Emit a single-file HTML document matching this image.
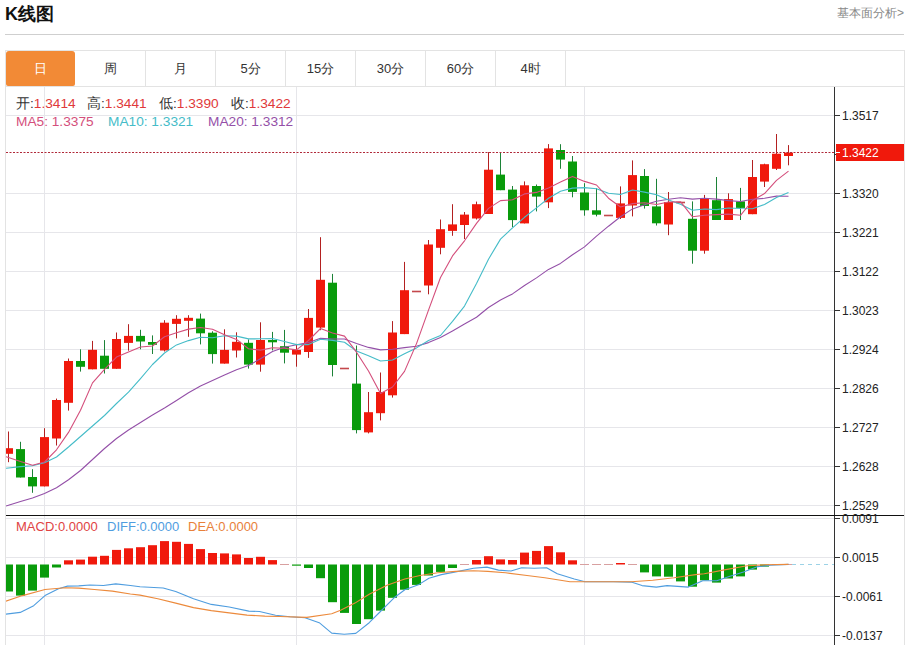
<!DOCTYPE html>
<html><head><meta charset="utf-8">
<style>
html,body{margin:0;padding:0;background:#fff;width:909px;height:645px;overflow:hidden}
body{font-family:"Liberation Sans",sans-serif;position:relative}
.title{position:absolute;left:5px;top:2px;font-size:18px;font-weight:bold;color:#111;line-height:24px}
.more{position:absolute;right:5px;top:6px;font-size:12px;color:#888;line-height:14px}
.hr{position:absolute;left:5px;top:34px;width:899px;height:1px;background:#cfcfcf}
.box{position:absolute;left:5px;top:50px;width:898px;height:600px;border:1px solid #e3e3e3;border-bottom:none}
.tabs{position:absolute;left:6px;top:51px;height:35px;border-bottom:1px solid #e3e3e3;width:898px}
.tab{position:absolute;top:0;width:69px;height:35px;border-right:1px solid #e3e3e3;text-align:center;font-size:13px;line-height:35px;color:#333}
.tab.on{background:#f28a36;color:#fff;border-right:none;width:69px;border-radius:3px 3px 2px 2px}
svg{position:absolute;left:0;top:0}
.al{font-family:"Liberation Sans",sans-serif;font-size:12px;fill:#222}
.lg{position:absolute;font-size:13.7px;line-height:15px;white-space:nowrap}
.lm{position:absolute;font-size:13px;line-height:15px;white-space:nowrap}
</style></head><body>
<div class="title">K线图</div>
<div class="more">基本面分析&gt;</div>
<div class="hr"></div>
<div class="box"></div>
<svg width="909" height="645" viewBox="0 0 909 645">
<line x1="6" y1="115.5" x2="834" y2="115.5" stroke="#e6e6ea" stroke-width="1"/><line x1="6" y1="193.5" x2="834" y2="193.5" stroke="#e6e6ea" stroke-width="1"/><line x1="6" y1="232.5" x2="834" y2="232.5" stroke="#e6e6ea" stroke-width="1"/><line x1="6" y1="271.5" x2="834" y2="271.5" stroke="#e6e6ea" stroke-width="1"/><line x1="6" y1="310.5" x2="834" y2="310.5" stroke="#e6e6ea" stroke-width="1"/><line x1="6" y1="349.5" x2="834" y2="349.5" stroke="#e6e6ea" stroke-width="1"/><line x1="6" y1="388.5" x2="834" y2="388.5" stroke="#e6e6ea" stroke-width="1"/><line x1="6" y1="427.5" x2="834" y2="427.5" stroke="#e6e6ea" stroke-width="1"/><line x1="6" y1="466.5" x2="834" y2="466.5" stroke="#e6e6ea" stroke-width="1"/><line x1="6" y1="505.5" x2="834" y2="505.5" stroke="#e6e6ea" stroke-width="1"/><line x1="6" y1="518.5" x2="834" y2="518.5" stroke="#e6e6ea" stroke-width="1"/><line x1="6" y1="557.5" x2="834" y2="557.5" stroke="#e6e6ea" stroke-width="1"/><line x1="6" y1="596.5" x2="834" y2="596.5" stroke="#e6e6ea" stroke-width="1"/><line x1="6" y1="635.5" x2="834" y2="635.5" stroke="#e6e6ea" stroke-width="1"/><line x1="44.5" y1="87" x2="44.5" y2="645" stroke="#e6e6ea" stroke-width="1"/><line x1="296.5" y1="87" x2="296.5" y2="645" stroke="#e6e6ea" stroke-width="1"/><line x1="584.5" y1="87" x2="584.5" y2="645" stroke="#e6e6ea" stroke-width="1"/>
<defs><clipPath id="cp"><rect x="6" y="87" width="828" height="558"/></clipPath></defs><g clip-path="url(#cp)"><g><line x1="8.5" y1="431.5" x2="8.5" y2="462.2" stroke="#b32020" stroke-width="1"/><rect x="4.0" y="448.2" width="9" height="5.6" fill="#f0190c"/><line x1="20.5" y1="441.8" x2="20.5" y2="477.5" stroke="#1c8237" stroke-width="1"/><rect x="16.0" y="449.1" width="9" height="28.4" fill="#099b0b"/><line x1="32.5" y1="469.2" x2="32.5" y2="492.8" stroke="#1c8237" stroke-width="1"/><rect x="28.0" y="477.0" width="9" height="9.4" fill="#099b0b"/><line x1="44.5" y1="428.2" x2="44.5" y2="486.4" stroke="#b32020" stroke-width="1"/><rect x="40.0" y="437.1" width="9" height="49.3" fill="#f0190c"/><line x1="56.5" y1="398.6" x2="56.5" y2="445.5" stroke="#b32020" stroke-width="1"/><rect x="52.0" y="400.0" width="9" height="38.5" fill="#f0190c"/><line x1="68.5" y1="358.5" x2="68.5" y2="410.6" stroke="#b32020" stroke-width="1"/><rect x="64.0" y="361.0" width="9" height="41.8" fill="#f0190c"/><line x1="80.5" y1="349.3" x2="80.5" y2="371.6" stroke="#1c8237" stroke-width="1"/><rect x="76.0" y="361.0" width="9" height="5.8" fill="#099b0b"/><line x1="92.5" y1="340.9" x2="92.5" y2="369.3" stroke="#b32020" stroke-width="1"/><rect x="88.0" y="349.8" width="9" height="19.5" fill="#f0190c"/><line x1="104.5" y1="340.1" x2="104.5" y2="373.5" stroke="#1c8237" stroke-width="1"/><rect x="100.0" y="355.7" width="9" height="13.1" fill="#099b0b"/><line x1="116.5" y1="332.5" x2="116.5" y2="368.8" stroke="#b32020" stroke-width="1"/><rect x="112.0" y="339.0" width="9" height="29.8" fill="#f0190c"/><line x1="128.5" y1="324.2" x2="128.5" y2="350.7" stroke="#b32020" stroke-width="1"/><rect x="124.0" y="335.9" width="9" height="7.0" fill="#f0190c"/><line x1="140.5" y1="329.8" x2="140.5" y2="349.3" stroke="#1c8237" stroke-width="1"/><rect x="136.0" y="335.9" width="9" height="5.6" fill="#099b0b"/><line x1="152.5" y1="335.4" x2="152.5" y2="354.0" stroke="#1c8237" stroke-width="1"/><rect x="148.0" y="342.0" width="9" height="2.8" fill="#099b0b"/><line x1="164.5" y1="320.2" x2="164.5" y2="351.5" stroke="#b32020" stroke-width="1"/><rect x="160.0" y="322.7" width="9" height="27.8" fill="#f0190c"/><line x1="176.5" y1="315.2" x2="176.5" y2="338.4" stroke="#b32020" stroke-width="1"/><rect x="172.0" y="318.8" width="9" height="5.1" fill="#f0190c"/><line x1="188.5" y1="315.2" x2="188.5" y2="336.8" stroke="#b32020" stroke-width="1"/><rect x="184.0" y="317.8" width="9" height="3.0" fill="#f0190c"/><line x1="200.5" y1="313.6" x2="200.5" y2="344.4" stroke="#1c8237" stroke-width="1"/><rect x="196.0" y="318.6" width="9" height="14.7" fill="#099b0b"/><line x1="212.5" y1="331.3" x2="212.5" y2="363.6" stroke="#1c8237" stroke-width="1"/><rect x="208.0" y="332.7" width="9" height="21.4" fill="#099b0b"/><line x1="224.5" y1="329.3" x2="224.5" y2="363.6" stroke="#b32020" stroke-width="1"/><rect x="220.0" y="349.9" width="9" height="13.7" fill="#f0190c"/><line x1="236.5" y1="332.3" x2="236.5" y2="357.5" stroke="#b32020" stroke-width="1"/><rect x="232.0" y="341.8" width="9" height="8.7" fill="#f0190c"/><line x1="248.5" y1="339.4" x2="248.5" y2="368.6" stroke="#1c8237" stroke-width="1"/><rect x="244.0" y="342.8" width="9" height="21.8" fill="#099b0b"/><line x1="260.5" y1="322.3" x2="260.5" y2="371.7" stroke="#b32020" stroke-width="1"/><rect x="256.0" y="340.0" width="9" height="24.6" fill="#f0190c"/><line x1="272.5" y1="331.9" x2="272.5" y2="350.4" stroke="#1c8237" stroke-width="1"/><rect x="268.0" y="340.0" width="9" height="2.3" fill="#099b0b"/><line x1="284.5" y1="329.9" x2="284.5" y2="363.4" stroke="#1c8237" stroke-width="1"/><rect x="280.0" y="346.2" width="9" height="6.5" fill="#099b0b"/><line x1="296.5" y1="343.9" x2="296.5" y2="366.7" stroke="#b32020" stroke-width="1"/><rect x="292.0" y="349.8" width="9" height="4.8" fill="#f0190c"/><line x1="308.5" y1="309.0" x2="308.5" y2="357.9" stroke="#b32020" stroke-width="1"/><rect x="304.0" y="317.9" width="9" height="34.1" fill="#f0190c"/><line x1="320.5" y1="237.2" x2="320.5" y2="330.2" stroke="#b32020" stroke-width="1"/><rect x="316.0" y="279.8" width="9" height="47.8" fill="#f0190c"/><line x1="332.5" y1="273.9" x2="332.5" y2="376.4" stroke="#1c8237" stroke-width="1"/><rect x="328.0" y="282.7" width="9" height="82.3" fill="#099b0b"/><line x1="340.0" y1="368.5" x2="349.0" y2="368.5" stroke="#c4484c" stroke-width="1.6"/><line x1="356.5" y1="345.5" x2="356.5" y2="433.4" stroke="#1c8237" stroke-width="1"/><rect x="352.0" y="383.6" width="9" height="46.5" fill="#099b0b"/><line x1="368.5" y1="392.0" x2="368.5" y2="433.4" stroke="#b32020" stroke-width="1"/><rect x="364.0" y="412.2" width="9" height="20.2" fill="#f0190c"/><line x1="380.5" y1="372.5" x2="380.5" y2="420.4" stroke="#b32020" stroke-width="1"/><rect x="376.0" y="392.0" width="9" height="21.2" fill="#f0190c"/><line x1="392.5" y1="321.1" x2="392.5" y2="397.6" stroke="#b32020" stroke-width="1"/><rect x="388.0" y="332.5" width="9" height="62.8" fill="#f0190c"/><line x1="404.5" y1="261.9" x2="404.5" y2="334.1" stroke="#b32020" stroke-width="1"/><rect x="400.0" y="290.2" width="9" height="43.9" fill="#f0190c"/><line x1="412.0" y1="291.5" x2="421.0" y2="291.5" stroke="#c4484c" stroke-width="1.6"/><line x1="428.5" y1="240.0" x2="428.5" y2="294.3" stroke="#b32020" stroke-width="1"/><rect x="424.0" y="244.5" width="9" height="41.0" fill="#f0190c"/><line x1="440.5" y1="219.5" x2="440.5" y2="254.3" stroke="#b32020" stroke-width="1"/><rect x="436.0" y="229.2" width="9" height="18.6" fill="#f0190c"/><line x1="452.5" y1="204.2" x2="452.5" y2="235.8" stroke="#b32020" stroke-width="1"/><rect x="448.0" y="224.4" width="9" height="6.5" fill="#f0190c"/><line x1="464.5" y1="212.0" x2="464.5" y2="239.0" stroke="#b32020" stroke-width="1"/><rect x="460.0" y="214.6" width="9" height="10.4" fill="#f0190c"/><line x1="476.5" y1="201.6" x2="476.5" y2="219.5" stroke="#b32020" stroke-width="1"/><rect x="472.0" y="204.2" width="9" height="14.3" fill="#f0190c"/><line x1="488.5" y1="152.1" x2="488.5" y2="214.0" stroke="#b32020" stroke-width="1"/><rect x="484.0" y="169.7" width="9" height="44.3" fill="#f0190c"/><line x1="500.5" y1="152.1" x2="500.5" y2="190.2" stroke="#1c8237" stroke-width="1"/><rect x="496.0" y="174.6" width="9" height="15.6" fill="#099b0b"/><line x1="512.5" y1="186.0" x2="512.5" y2="227.0" stroke="#1c8237" stroke-width="1"/><rect x="508.0" y="189.6" width="9" height="30.5" fill="#099b0b"/><line x1="524.5" y1="181.4" x2="524.5" y2="223.4" stroke="#b32020" stroke-width="1"/><rect x="520.0" y="185.3" width="9" height="38.1" fill="#f0190c"/><line x1="536.5" y1="184.5" x2="536.5" y2="211.4" stroke="#1c8237" stroke-width="1"/><rect x="532.0" y="186.0" width="9" height="10.6" fill="#099b0b"/><line x1="548.5" y1="144.1" x2="548.5" y2="208.1" stroke="#b32020" stroke-width="1"/><rect x="544.0" y="148.4" width="9" height="53.9" fill="#f0190c"/><line x1="560.5" y1="144.2" x2="560.5" y2="168.8" stroke="#1c8237" stroke-width="1"/><rect x="556.0" y="150.0" width="9" height="9.6" fill="#099b0b"/><line x1="572.5" y1="156.0" x2="572.5" y2="197.3" stroke="#1c8237" stroke-width="1"/><rect x="568.0" y="161.5" width="9" height="30.4" fill="#099b0b"/><line x1="584.5" y1="183.2" x2="584.5" y2="215.7" stroke="#1c8237" stroke-width="1"/><rect x="580.0" y="192.5" width="9" height="17.8" fill="#099b0b"/><line x1="596.5" y1="188.2" x2="596.5" y2="216.4" stroke="#1c8237" stroke-width="1"/><rect x="592.0" y="210.3" width="9" height="4.4" fill="#099b0b"/><line x1="604.0" y1="215.5" x2="613.0" y2="215.5" stroke="#c4484c" stroke-width="1.6"/><line x1="620.5" y1="186.4" x2="620.5" y2="219.0" stroke="#b32020" stroke-width="1"/><rect x="616.0" y="203.4" width="9" height="14.5" fill="#f0190c"/><line x1="632.5" y1="160.4" x2="632.5" y2="216.4" stroke="#b32020" stroke-width="1"/><rect x="628.0" y="175.1" width="9" height="30.4" fill="#f0190c"/><line x1="644.5" y1="169.1" x2="644.5" y2="208.6" stroke="#1c8237" stroke-width="1"/><rect x="640.0" y="176.0" width="9" height="30.0" fill="#099b0b"/><line x1="656.5" y1="178.8" x2="656.5" y2="225.5" stroke="#1c8237" stroke-width="1"/><rect x="652.0" y="206.4" width="9" height="16.9" fill="#099b0b"/><line x1="668.5" y1="192.0" x2="668.5" y2="235.2" stroke="#b32020" stroke-width="1"/><rect x="664.0" y="202.0" width="9" height="22.5" fill="#f0190c"/><line x1="676.0" y1="202.5" x2="685.0" y2="202.5" stroke="#c4484c" stroke-width="1.6"/><line x1="692.5" y1="201.4" x2="692.5" y2="263.7" stroke="#1c8237" stroke-width="1"/><rect x="688.0" y="218.8" width="9" height="31.9" fill="#099b0b"/><line x1="704.5" y1="194.9" x2="704.5" y2="253.7" stroke="#b32020" stroke-width="1"/><rect x="700.0" y="198.6" width="9" height="52.1" fill="#f0190c"/><line x1="716.5" y1="177.0" x2="716.5" y2="220.0" stroke="#1c8237" stroke-width="1"/><rect x="712.0" y="200.2" width="9" height="19.8" fill="#099b0b"/><line x1="728.5" y1="193.3" x2="728.5" y2="220.0" stroke="#b32020" stroke-width="1"/><rect x="724.0" y="199.1" width="9" height="20.9" fill="#f0190c"/><line x1="740.5" y1="187.9" x2="740.5" y2="220.0" stroke="#1c8237" stroke-width="1"/><rect x="736.0" y="201.4" width="9" height="6.5" fill="#099b0b"/><line x1="752.5" y1="160.0" x2="752.5" y2="214.2" stroke="#b32020" stroke-width="1"/><rect x="748.0" y="177.0" width="9" height="37.2" fill="#f0190c"/><line x1="764.5" y1="163.7" x2="764.5" y2="187.0" stroke="#b32020" stroke-width="1"/><rect x="760.0" y="164.2" width="9" height="17.4" fill="#f0190c"/><line x1="776.5" y1="134.0" x2="776.5" y2="170.0" stroke="#b32020" stroke-width="1"/><rect x="772.0" y="153.7" width="9" height="15.1" fill="#f0190c"/><line x1="788.5" y1="145.1" x2="788.5" y2="165.3" stroke="#b32020" stroke-width="1"/><rect x="784.0" y="152.6" width="9" height="3.4" fill="#f0190c"/></g>
<g><polyline points="6.0,506.0 8.5,505.2 20.5,501.5 32.5,498.0 44.5,493.5 56.5,487.8 68.5,479.8 80.5,470.5 92.5,459.5 104.5,448.5 116.5,438.5 128.5,430.0 140.5,422.5 152.5,415.0 164.5,408.0 176.5,400.5 188.5,392.8 200.5,386.0 212.5,380.5 224.5,375.0 236.5,369.8 248.5,365.6 260.5,358.7 272.5,351.5 284.5,347.3 296.5,344.8 308.5,342.6 320.5,338.3 332.5,339.0 344.5,339.0 356.5,343.5 368.5,347.4 380.5,349.9 392.5,349.3 404.5,347.6 416.5,346.3 428.5,342.6 440.5,337.4 452.5,330.9 464.5,324.1 476.5,317.3 488.5,307.5 500.5,300.0 512.5,293.9 524.5,285.5 536.5,277.9 548.5,269.4 560.5,263.4 572.5,254.7 584.5,246.9 596.5,236.1 608.5,226.2 620.5,216.8 632.5,208.9 644.5,204.7 656.5,201.3 668.5,199.2 680.5,197.8 692.5,199.1 704.5,198.3 716.5,199.1 728.5,200.6 740.5,201.5 752.5,199.3 764.5,198.3 776.5,196.1 788.5,196.3" fill="none" stroke="#9450a8" stroke-width="1.1" stroke-linejoin="round"/><polyline points="6.0,468.3 8.5,468.0 20.5,466.6 32.5,465.8 44.5,462.8 56.5,457.0 68.5,447.0 80.5,436.5 92.5,426.0 104.5,415.5 116.5,403.5 128.5,392.2 140.5,378.6 152.5,364.5 164.5,353.0 176.5,344.9 188.5,340.6 200.5,337.2 212.5,337.7 224.5,335.8 236.5,336.1 248.5,338.9 260.5,338.8 272.5,338.5 284.5,341.5 296.5,344.6 308.5,344.6 320.5,339.3 332.5,340.4 344.5,342.2 356.5,351.0 368.5,355.8 380.5,361.0 392.5,360.0 404.5,353.8 416.5,347.9 428.5,340.5 440.5,335.5 452.5,321.4 464.5,306.1 476.5,283.5 488.5,259.2 500.5,239.1 512.5,227.8 524.5,217.3 536.5,207.9 548.5,198.3 560.5,191.3 572.5,188.1 584.5,187.6 596.5,188.7 608.5,193.2 620.5,194.5 632.5,190.0 644.5,192.1 656.5,194.7 668.5,200.1 680.5,204.3 692.5,210.2 704.5,209.0 716.5,209.6 728.5,208.0 740.5,208.5 752.5,208.7 764.5,204.5 776.5,197.5 788.5,192.6" fill="none" stroke="#45bcc8" stroke-width="1.1" stroke-linejoin="round"/><polyline points="6.0,456.7 8.5,457.5 20.5,461.5 32.5,465.2 44.5,462.0 56.5,449.8 68.5,432.4 80.5,410.3 92.5,382.9 104.5,369.3 116.5,357.1 128.5,352.1 140.5,347.0 152.5,346.0 164.5,336.8 176.5,332.7 188.5,329.1 200.5,327.5 212.5,329.3 224.5,334.8 236.5,339.4 248.5,348.7 260.5,350.1 272.5,347.7 284.5,348.3 296.5,349.9 308.5,340.5 320.5,328.5 332.5,333.0 344.5,336.1 356.5,352.2 368.5,371.0 380.5,393.5 392.5,387.0 404.5,371.4 416.5,343.6 428.5,310.1 440.5,277.5 452.5,255.9 464.5,240.8 476.5,223.4 488.5,208.4 500.5,200.6 512.5,199.8 524.5,193.9 536.5,192.4 548.5,188.1 560.5,182.0 572.5,176.4 584.5,181.4 596.5,185.0 608.5,198.2 620.5,207.0 632.5,203.6 644.5,202.8 656.5,204.5 668.5,202.0 680.5,201.7 692.5,216.8 704.5,215.3 716.5,214.6 728.5,214.1 740.5,215.3 752.5,200.5 764.5,193.6 776.5,180.4 788.5,171.1" fill="none" stroke="#d44f7c" stroke-width="1.1" stroke-linejoin="round"/></g>
<g><rect x="4.0" y="564.5" width="9" height="27.0" fill="#099b0b"/><rect x="16.0" y="564.5" width="9" height="31.1" fill="#099b0b"/><rect x="28.0" y="564.5" width="9" height="26.1" fill="#099b0b"/><rect x="40.0" y="564.5" width="9" height="13.1" fill="#099b0b"/><rect x="52.0" y="564.5" width="9" height="3.0" fill="#099b0b"/><rect x="64.0" y="560.3" width="9" height="4.2" fill="#f0190c"/><rect x="76.0" y="559.6" width="9" height="4.9" fill="#f0190c"/><rect x="88.0" y="556.7" width="9" height="7.8" fill="#f0190c"/><rect x="100.0" y="555.8" width="9" height="8.7" fill="#f0190c"/><rect x="112.0" y="549.9" width="9" height="14.6" fill="#f0190c"/><rect x="124.0" y="548.3" width="9" height="16.2" fill="#f0190c"/><rect x="136.0" y="547.2" width="9" height="17.3" fill="#f0190c"/><rect x="148.0" y="545.2" width="9" height="19.3" fill="#f0190c"/><rect x="160.0" y="541.1" width="9" height="23.4" fill="#f0190c"/><rect x="172.0" y="541.8" width="9" height="22.7" fill="#f0190c"/><rect x="184.0" y="543.9" width="9" height="20.6" fill="#f0190c"/><rect x="196.0" y="549.1" width="9" height="15.4" fill="#f0190c"/><rect x="208.0" y="553.0" width="9" height="11.5" fill="#f0190c"/><rect x="220.0" y="553.4" width="9" height="11.1" fill="#f0190c"/><rect x="232.0" y="554.4" width="9" height="10.1" fill="#f0190c"/><rect x="244.0" y="558.0" width="9" height="6.5" fill="#f0190c"/><rect x="256.0" y="556.8" width="9" height="7.7" fill="#f0190c"/><rect x="268.0" y="560.1" width="9" height="4.4" fill="#f0190c"/><line x1="280.0" y1="564.5" x2="289.0" y2="564.5" stroke="#d8a0a0" stroke-width="1"/><rect x="292.0" y="564.5" width="9" height="1.2" fill="#099b0b"/><rect x="304.0" y="564.5" width="9" height="3.5" fill="#099b0b"/><rect x="316.0" y="564.5" width="9" height="13.7" fill="#099b0b"/><rect x="328.0" y="564.5" width="9" height="37.7" fill="#099b0b"/><rect x="340.0" y="564.5" width="9" height="48.4" fill="#099b0b"/><rect x="352.0" y="564.5" width="9" height="59.5" fill="#099b0b"/><rect x="364.0" y="564.5" width="9" height="54.7" fill="#099b0b"/><rect x="376.0" y="564.5" width="9" height="46.1" fill="#099b0b"/><rect x="388.0" y="564.5" width="9" height="33.3" fill="#099b0b"/><rect x="400.0" y="564.5" width="9" height="25.2" fill="#099b0b"/><rect x="412.0" y="564.5" width="9" height="20.4" fill="#099b0b"/><rect x="424.0" y="564.5" width="9" height="11.0" fill="#099b0b"/><rect x="436.0" y="564.5" width="9" height="7.4" fill="#099b0b"/><rect x="448.0" y="564.5" width="9" height="3.5" fill="#099b0b"/><line x1="460.0" y1="564.5" x2="469.0" y2="564.5" stroke="#d8a0a0" stroke-width="1"/><rect x="472.0" y="560.0" width="9" height="4.5" fill="#f0190c"/><rect x="484.0" y="556.2" width="9" height="8.3" fill="#f0190c"/><rect x="496.0" y="559.4" width="9" height="5.1" fill="#f0190c"/><rect x="508.0" y="560.0" width="9" height="4.5" fill="#f0190c"/><rect x="520.0" y="552.6" width="9" height="11.9" fill="#f0190c"/><rect x="532.0" y="550.9" width="9" height="13.6" fill="#f0190c"/><rect x="544.0" y="546.1" width="9" height="18.4" fill="#f0190c"/><rect x="556.0" y="552.3" width="9" height="12.2" fill="#f0190c"/><rect x="568.0" y="560.3" width="9" height="4.2" fill="#f0190c"/><line x1="580.0" y1="564.5" x2="589.0" y2="564.5" stroke="#d8a0a0" stroke-width="1"/><line x1="592.0" y1="564.5" x2="601.0" y2="564.5" stroke="#d8a0a0" stroke-width="1"/><line x1="604.0" y1="564.5" x2="613.0" y2="564.5" stroke="#d8a0a0" stroke-width="1"/><rect x="616.0" y="563.0" width="9" height="1.5" fill="#f0190c"/><line x1="628.0" y1="564.5" x2="637.0" y2="564.5" stroke="#d8a0a0" stroke-width="1"/><rect x="640.0" y="564.5" width="9" height="7.9" fill="#099b0b"/><rect x="652.0" y="564.5" width="9" height="11.9" fill="#099b0b"/><rect x="664.0" y="564.5" width="9" height="12.2" fill="#099b0b"/><rect x="676.0" y="564.5" width="9" height="16.9" fill="#099b0b"/><rect x="688.0" y="564.5" width="9" height="22.2" fill="#099b0b"/><rect x="700.0" y="564.5" width="9" height="15.8" fill="#099b0b"/><rect x="712.0" y="564.5" width="9" height="18.1" fill="#099b0b"/><rect x="724.0" y="564.5" width="9" height="14.0" fill="#099b0b"/><rect x="736.0" y="564.5" width="9" height="11.9" fill="#099b0b"/><rect x="748.0" y="564.5" width="9" height="5.1" fill="#099b0b"/><rect x="760.0" y="564.5" width="9" height="2.1" fill="#099b0b"/><line x1="772.0" y1="564.5" x2="781.0" y2="564.5" stroke="#d8a0a0" stroke-width="1"/><line x1="784.0" y1="564.5" x2="793.0" y2="564.5" stroke="#d8a0a0" stroke-width="1"/><polyline points="5.6,614.2 20.2,612.4 33.7,605.7 45.0,595.6 58.5,588.8 67.5,586.1 78.7,585.9 90.0,585.0 103.4,585.5 115.8,583.9 130.4,585.5 140.0,586.7 163.2,588.0 175.7,591.5 193.5,598.7 211.3,604.4 229.2,607.0 248.8,611.1 259.5,611.5 275.5,615.3 290.0,616.8 305.0,617.7 319.2,622.7 331.7,633.1 344.2,634.3 355.8,633.4 369.2,622.7 379.9,612.0 394.1,597.8 404.8,589.7 419.1,584.4 428.9,578.2 441.4,574.6 455.7,571.9 473.5,568.3 486.9,567.1 498.5,570.1 511.0,571.0 521.7,567.8 534.1,568.3 546.6,567.8 557.3,573.7 574.3,579.0 585.0,581.7 613.5,581.7 631.3,582.1 642.0,585.6 656.3,587.1 667.0,585.6 688.4,587.1 702.7,580.8 716.8,580.8 729.2,576.4 743.5,571.9 757.8,566.6 770.3,565.3 788.5,564.4" fill="none" stroke="#4f9ddf" stroke-width="1.1" stroke-linejoin="round"/><polyline points="5.6,601.2 22.5,595.6 45.0,589.5 65.2,587.7 78.7,588.1 94.4,589.5 112.4,591.1 130.4,594.0 140.0,595.1 157.8,598.7 175.7,603.1 193.5,607.6 211.3,610.6 229.2,612.9 247.0,615.1 264.8,616.1 280.0,616.5 306.8,617.4 331.7,613.8 340.6,610.3 354.9,603.1 369.2,594.2 387.0,585.3 404.8,579.0 420.0,575.5 437.8,572.8 455.7,571.4 473.5,570.7 487.8,571.4 505.6,572.8 527.0,575.5 544.8,577.8 570.0,581.7 585.0,581.7 631.3,581.7 652.7,580.3 674.1,577.8 695.5,574.6 704.3,573.7 725.7,569.6 747.1,565.7 764.9,564.8 788.5,564.4" fill="none" stroke="#ec8a3c" stroke-width="1.1" stroke-linejoin="round"/><line x1="792" y1="564.5" x2="834" y2="564.5" stroke="#9cd2e6" stroke-width="1" stroke-dasharray="4,4"/></g></g>
<line x1="834.5" y1="87" x2="834.5" y2="645" stroke="#333" stroke-width="1"/><line x1="6" y1="515.5" x2="904" y2="515.5" stroke="#111" stroke-width="1.2"/><line x1="835" y1="115.5" x2="840" y2="115.5" stroke="#333" stroke-width="1"/><text x="842" y="120.0" class="al">1.3517</text><line x1="835" y1="154.5" x2="840" y2="154.5" stroke="#333" stroke-width="1"/><text x="842" y="159.0" class="al">1.3419</text><line x1="835" y1="193.5" x2="840" y2="193.5" stroke="#333" stroke-width="1"/><text x="842" y="198.0" class="al">1.3320</text><line x1="835" y1="232.5" x2="840" y2="232.5" stroke="#333" stroke-width="1"/><text x="842" y="237.0" class="al">1.3221</text><line x1="835" y1="271.5" x2="840" y2="271.5" stroke="#333" stroke-width="1"/><text x="842" y="276.0" class="al">1.3122</text><line x1="835" y1="310.5" x2="840" y2="310.5" stroke="#333" stroke-width="1"/><text x="842" y="315.0" class="al">1.3023</text><line x1="835" y1="349.5" x2="840" y2="349.5" stroke="#333" stroke-width="1"/><text x="842" y="354.0" class="al">1.2924</text><line x1="835" y1="388.5" x2="840" y2="388.5" stroke="#333" stroke-width="1"/><text x="842" y="393.0" class="al">1.2826</text><line x1="835" y1="427.5" x2="840" y2="427.5" stroke="#333" stroke-width="1"/><text x="842" y="432.0" class="al">1.2727</text><line x1="835" y1="466.5" x2="840" y2="466.5" stroke="#333" stroke-width="1"/><text x="842" y="471.0" class="al">1.2628</text><line x1="835" y1="505.5" x2="840" y2="505.5" stroke="#333" stroke-width="1"/><text x="842" y="510.0" class="al">1.2529</text><line x1="835" y1="518.5" x2="840" y2="518.5" stroke="#333" stroke-width="1"/><text x="842" y="523.0" class="al">0.0091</text><line x1="835" y1="557.5" x2="840" y2="557.5" stroke="#333" stroke-width="1"/><text x="842" y="562.0" class="al">0.0015</text><line x1="835" y1="596.5" x2="840" y2="596.5" stroke="#333" stroke-width="1"/><text x="842" y="601.0" class="al">-0.0061</text><line x1="835" y1="635.5" x2="840" y2="635.5" stroke="#333" stroke-width="1"/><text x="842" y="640.0" class="al">-0.0137</text><line x1="6" y1="152.5" x2="834" y2="152.5" stroke="#b02838" stroke-width="1.1" stroke-dasharray="2,1.5"/><rect x="836" y="144" width="68" height="17" fill="#f0190c"/><line x1="835" y1="152.5" x2="840" y2="152.5" stroke="#fff" stroke-width="1"/><text x="842" y="157" class="al" style="fill:#fff">1.3422</text>
</svg>
<div class="tabs">
<div class="tab on" style="left:0">日</div>
<div class="tab" style="left:70px">周</div>
<div class="tab" style="left:140px">月</div>
<div class="tab" style="left:210px">5分</div>
<div class="tab" style="left:280px">15分</div>
<div class="tab" style="left:350px">30分</div>
<div class="tab" style="left:420px">60分</div>
<div class="tab" style="left:490px">4时</div>
</div>
<div class="lg" style="left:16px;top:96.3px;color:#333">开:<span style="color:#e0393a">1.3414</span></div>
<div class="lg" style="left:87px;top:96.3px;color:#333">高:<span style="color:#e0393a">1.3441</span></div>
<div class="lg" style="left:159px;top:96.3px;color:#333">低:<span style="color:#e0393a">1.3390</span></div>
<div class="lg" style="left:231px;top:96.3px;color:#333">收:<span style="color:#e0393a">1.3422</span></div>
<div class="lg" style="left:16px;top:114px;color:#d44f7c">MA5: 1.3375</div>
<div class="lg" style="left:108px;top:114px;color:#45bcc8">MA10: 1.3321</div>
<div class="lg" style="left:208px;top:114px;color:#9450a8">MA20: 1.3312</div>
<div class="lm" style="left:16px;top:519px;color:#e04343">MACD:0.0000</div>
<div class="lm" style="left:107px;top:519px;color:#4f9ddf">DIFF:0.0000</div>
<div class="lm" style="left:188px;top:519px;color:#e8813a">DEA:0.0000</div>
</body></html>
